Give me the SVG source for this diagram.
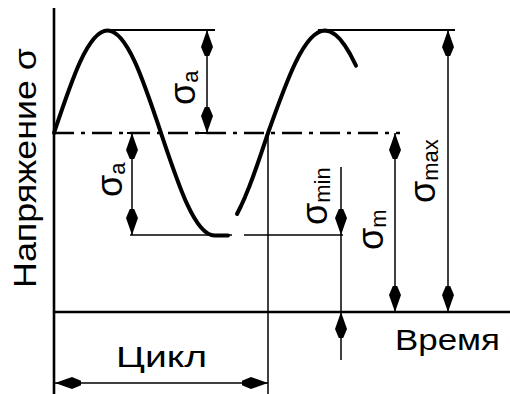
<svg xmlns="http://www.w3.org/2000/svg" xmlns:xlink="http://www.w3.org/1999/xlink" width="510" height="394" viewBox="0 0 510 394">
<defs>
<style>
.ax{stroke:#000;stroke-width:2.6;fill:none}
.ln{stroke:#000;stroke-width:2;fill:none}
.thin{stroke:#000;stroke-width:1.5;fill:none}
.mean{stroke:#000;stroke-width:2.6;fill:none;stroke-dasharray:20 7 4 7}
.curve{stroke:#000;stroke-width:4;fill:none;stroke-linecap:round;stroke-linejoin:round}
.t{font-family:"Liberation Sans",Arial,sans-serif;fill:#000}
.sg{font-size:36px}
.sb{font-size:22px}
</style>
<path id="ah" d="M0,0 L6,17 L2.2,26 L-2.2,26 L-6,17 Z" fill="#000"/>
</defs>
<rect width="510" height="394" fill="#fff"/>
<g id="axes">
<line class="ax" x1="54" y1="8" x2="54" y2="394"/>
<line class="ax" x1="54" y1="312" x2="510" y2="312"/>
</g>
<g id="reference-lines">
<line class="ln" x1="110" y1="30" x2="215" y2="30"/>
<line class="ln" x1="318" y1="30" x2="455" y2="30"/>
<line class="mean" x1="54" y1="133" x2="400" y2="133"/>
<line class="thin" x1="130" y1="235" x2="232" y2="235"/>
<line class="thin" x1="244" y1="235" x2="343" y2="235"/>
</g>
<g id="curve">
<path class="curve" d="M54,133 C71.5,80.5 88.1,30.5 107.5,30.5 C126.9,30.5 143.5,80.5 161,133 C178.5,185.5 195.1,235.5 214.5,235.5 L228,235.5"/>
<path class="curve" d="M237,214 L241,206 L245,197.1 L249,187.3 L253,176.7 L257,165.5 L261,153.9 L265,142 L268,133 C286.6,80.5 304.4,30.5 325,30.5 L330,31.5 L335,34.4 L340,39.1 L345,45.7 L350,53.9 L356,65.6"/>
</g>
<g id="connectors">
<line class="thin" x1="207" y1="30" x2="207" y2="133"/>
<line class="ln" x1="199" y1="133" x2="217" y2="133"/>
<use xlink:href="#ah" transform="translate(207,30)"/>
<use xlink:href="#ah" transform="translate(207,133) rotate(180)"/>
<line class="thin" x1="132" y1="133" x2="132" y2="235"/>
<line class="ln" x1="127" y1="133" x2="145" y2="133"/>
<use xlink:href="#ah" transform="translate(132,133)"/>
<use xlink:href="#ah" transform="translate(132,235) rotate(180)"/>
<line class="thin" x1="341" y1="167" x2="341" y2="360"/>
<use xlink:href="#ah" transform="translate(341,235) rotate(180)"/>
<use xlink:href="#ah" transform="translate(341,312)"/>
<line class="thin" x1="395" y1="133" x2="395" y2="312"/>
<use xlink:href="#ah" transform="translate(395,133)"/>
<use xlink:href="#ah" transform="translate(395,312) rotate(180)"/>
<line class="thin" x1="448" y1="30" x2="448" y2="312"/>
<use xlink:href="#ah" transform="translate(448,30)"/>
<use xlink:href="#ah" transform="translate(448,312) rotate(180)"/>
<line class="thin" x1="268" y1="133" x2="268" y2="394"/>
<line class="thin" x1="54" y1="383" x2="268" y2="383"/>
<use xlink:href="#ah" transform="translate(55,383) rotate(-90)"/>
<use xlink:href="#ah" transform="translate(268,383) rotate(90)"/>
</g>
<g id="labels">
<text class="t" font-size="32" transform="translate(36,288) rotate(-90)" textLength="240" lengthAdjust="spacingAndGlyphs">Напряжение σ</text>
<text class="t" font-size="30" x="116" y="367" textLength="91" lengthAdjust="spacingAndGlyphs">Цикл</text>
<text class="t" font-size="29" x="395" y="350" textLength="105" lengthAdjust="spacingAndGlyphs">Время</text>
<text class="t" transform="translate(195,105) rotate(-90)"><tspan class="sg">σ</tspan><tspan class="sb" dy="3">a</tspan></text>
<text class="t" transform="translate(122,197) rotate(-90)"><tspan class="sg">σ</tspan><tspan class="sb" dy="3">a</tspan></text>
<text class="t" transform="translate(327,225) rotate(-90)"><tspan class="sg">σ</tspan><tspan class="sb" dy="3">min</tspan></text>
<text class="t" transform="translate(383,250) rotate(-90)"><tspan class="sg">σ</tspan><tspan class="sb" dy="3">m</tspan></text>
<text class="t" transform="translate(435,203) rotate(-90)"><tspan class="sg">σ</tspan><tspan class="sb" dy="3">max</tspan></text>
</g>
</svg>
